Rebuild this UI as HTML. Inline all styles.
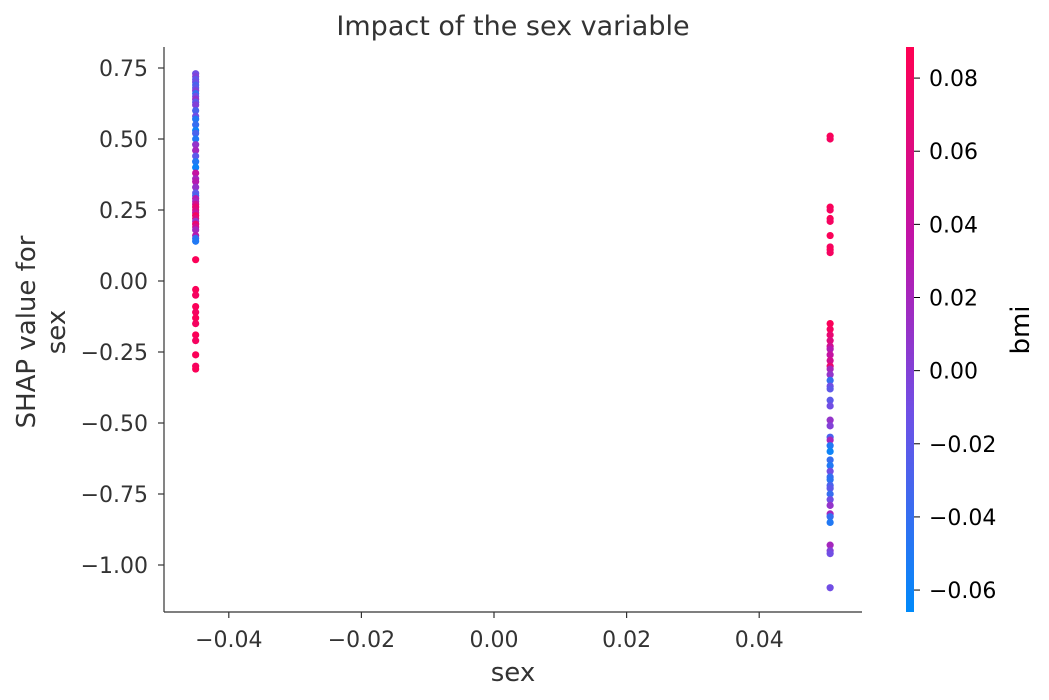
<!DOCTYPE html>
<html><head><meta charset="utf-8"><style>
html,body{margin:0;padding:0;background:#fff;}
svg{display:block;font-family:"DejaVu Sans","Liberation Sans",sans-serif;}
</style></head><body>
<svg id="chart" width="1049" height="700">
<defs>
<linearGradient id="cbg" x1="0" y1="1" x2="0" y2="0">
<stop offset="0" stop-color="rgb(0,138,250)"/>
<stop offset="0.35" stop-color="rgb(110,80,230)"/>
<stop offset="0.65" stop-color="rgb(190,20,170)"/>
<stop offset="1" stop-color="rgb(255,0,82)"/>
</linearGradient>
</defs>
<text x="513" y="35" text-anchor="middle" font-size="27" fill="#333">Impact of the sex variable</text>
<g id="plot"></g>
<line x1="164" y1="47" x2="164" y2="612" stroke="#333" stroke-width="1.2"/>
<line x1="164" y1="612" x2="862" y2="612" stroke="#333" stroke-width="1.2"/>
<text x="513" y="681" text-anchor="middle" font-size="26" fill="#333">sex</text>
<text transform="translate(35,332) rotate(-90)" text-anchor="middle" font-size="26" fill="#333"><tspan x="0" dy="0">SHAP value for</tspan><tspan x="0" dy="30">sex</tspan></text>
<rect x="906" y="47" width="8" height="565" fill="url(#cbg)"/>
<text transform="translate(1029,330) rotate(-90)" text-anchor="middle" font-size="26" fill="#000">bmi</text>
</svg>
<script>
const xTicks=[-0.04,-0.02,0.00,0.02,0.04];
const yTicks=[0.75,0.5,0.25,0,-0.25,-0.5,-0.75,-1.0];
const cbTicks=[0.08,0.06,0.04,0.02,0.00,-0.02,-0.04,-0.06];
const sexLevels=[-0.0450,0.0507];
const shapLeft=[0.73,0.72,0.71,0.70,0.69,0.68,0.67,0.66,0.65,0.64,0.63,0.62,0.60,0.58,0.57,0.55,0.53,0.52,0.50,0.48,0.46,0.44,0.42,0.40,0.38,0.36,0.35,0.33,0.31,0.30,0.29,0.28,0.27,0.26,0.25,0.24,0.23,0.22,0.21,0.20,0.19,0.18,0.16,0.15,0.14,0.075,-0.03,-0.05,-0.09,-0.11,-0.13,-0.15,-0.19,-0.21,-0.26,-0.30,-0.31];
const bmiLeft=[-0.01,0.0,-0.02,-0.01,-0.03,-0.02,0.0,-0.04,-0.01,0.01,-0.02,0.0,-0.03,-0.01,-0.05,-0.04,-0.06,-0.03,-0.05,0.01,0.02,-0.02,-0.05,-0.06,0.04,0.02,0.03,0.01,-0.02,-0.03,0.03,0.02,0.05,0.07,0.06,0.04,0.08,0.06,0.01,0.07,0.05,0.02,0.03,-0.04,-0.05,0.085,0.085,0.08,0.085,0.08,0.085,0.08,0.085,0.08,0.085,0.08,0.085];
const shapRight=[0.51,0.50,0.26,0.25,0.22,0.21,0.16,0.12,0.11,0.10,-0.15,-0.17,-0.19,-0.21,-0.23,-0.24,-0.26,-0.28,-0.30,-0.31,-0.33,-0.35,-0.37,-0.38,-0.42,-0.44,-0.49,-0.51,-0.55,-0.56,-0.58,-0.60,-0.63,-0.65,-0.67,-0.69,-0.70,-0.72,-0.73,-0.75,-0.77,-0.79,-0.82,-0.83,-0.85,-0.93,-0.95,-0.96,-1.08];
const bmiRight=[0.085,0.08,0.085,0.08,0.085,0.08,0.085,0.08,0.085,0.08,0.085,0.08,0.07,0.06,0.05,0.03,0.04,0.05,0.07,0.02,0.01,-0.04,-0.01,-0.02,-0.02,-0.01,0.01,0.0,-0.03,0.02,-0.05,-0.06,-0.04,-0.05,-0.01,-0.04,-0.045,-0.03,-0.02,-0.04,-0.01,0.01,0.02,-0.04,-0.05,0.02,0.0,-0.01,-0.01];

const NS='http://www.w3.org/2000/svg';
const svg=document.getElementById('chart');
const plot=document.getElementById('plot');
function xs(v){return 494+6630*v;}
function ys(v){return 281-284*v;}
const cbMin=-0.066,cbMax=0.0885;
function cbY(v){return 612-(v-cbMin)/(cbMax-cbMin)*565;}
const stops=[[0,[0,138,250]],[0.35,[110,80,230]],[0.65,[190,20,170]],[1,[255,0,82]]];
function col(v){let t=Math.max(0,Math.min(1,(v-cbMin)/(cbMax-cbMin)));
for(let i=1;i<stops.length;i++){if(t<=stops[i][0]){const a=stops[i-1],b=stops[i];const f=(t-a[0])/(b[0]-a[0]);
return 'rgb('+a[1].map((c,k)=>Math.round(c+(b[1][k]-c)*f)).join(',')+')';}}return 'rgb(255,0,82)';}
function mk(tag,attrs){const e=document.createElementNS(NS,tag);for(const k in attrs)e.setAttribute(k,attrs[k]);return e;}
function fmt(v){return (v<0?'\u2212':'')+Math.abs(v).toFixed(2);}

xTicks.forEach(v=>{
  const l=mk('line',{x1:xs(v),x2:xs(v),y1:612,y2:618,stroke:'#333','stroke-width':1.2});
  
  
  svg.appendChild(l);
  const t=mk('text',{x:xs(v),y:647,'text-anchor':'middle','font-size':22,fill:'#333'});
  t.textContent=fmt(v);
  
  
  svg.appendChild(t);
});
yTicks.forEach(v=>{
  const l=mk('line',{x1:158,x2:164,y1:ys(v),y2:ys(v),stroke:'#333','stroke-width':1.2});
  
  
  svg.appendChild(l);
  const t=mk('text',{x:148,y:ys(v)+8,'text-anchor':'end','font-size':22,fill:'#333'});
  t.textContent=fmt(v);
  
  
  svg.appendChild(t);
});
cbTicks.forEach(v=>{
  const l=mk('line',{x1:914,x2:920,y1:cbY(v),y2:cbY(v),stroke:'#000','stroke-width':1});
  
  
  svg.appendChild(l);
  const t=mk('text',{x:929,y:cbY(v)+8,'font-size':22,fill:'#000'});
  t.textContent=fmt(v);
  
  
  svg.appendChild(t);
});
function drawPts(sx,shap,bmi){
  shap.forEach((s,i)=>{
    const c=mk('circle',{cx:xs(sx),cy:ys(s),r:3.6,fill:col(bmi[i])});
    
    
    plot.appendChild(c);
  });
}
drawPts(sexLevels[0],shapLeft,bmiLeft);
drawPts(sexLevels[1],shapRight,bmiRight);
</script>
</body></html>
